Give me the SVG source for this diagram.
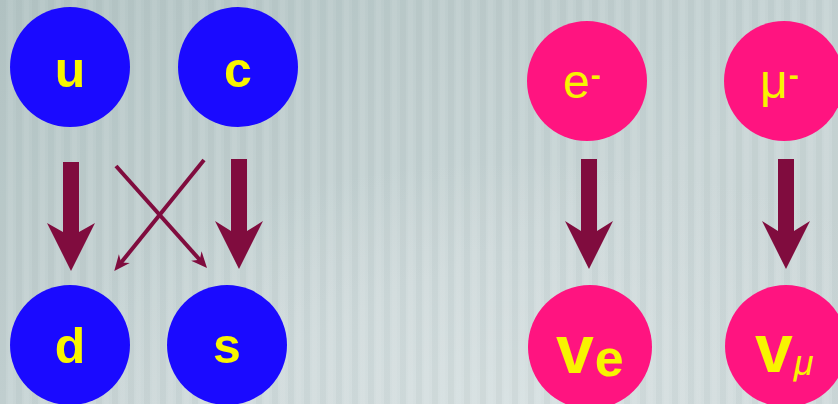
<svg xmlns="http://www.w3.org/2000/svg" width="838" height="404" viewBox="0 0 838 404">
  <defs>
    <linearGradient id="bg" x1="0" y1="0" x2="1" y2="1">
      <stop offset="0" stop-color="#B4C5C5"/>
      <stop offset="0.6" stop-color="#CAD6D7"/>
      <stop offset="1" stop-color="#CCD7D8"/>
    </linearGradient>
    <radialGradient id="glow" cx="0.62" cy="1" r="0.6">
      <stop offset="0" stop-color="#DAE3E4" stop-opacity="0.8"/>
      <stop offset="1" stop-color="#DAE3E4" stop-opacity="0"/>
    </radialGradient>
    <pattern id="stripes" x="0" y="0" width="16" height="404" patternUnits="userSpaceOnUse">
      <rect x="0" y="0" width="6" height="404" fill="#8FA6A8" opacity="0.11"/>
      <rect x="8" y="0" width="5" height="404" fill="#FFFFFF" opacity="0.06"/>
    </pattern>
    <marker id="head" viewBox="-10 -8 20 16" refX="0" refY="0" markerWidth="20" markerHeight="16" markerUnits="userSpaceOnUse" orient="auto" overflow="visible">
      <path d="M8,0 L-8,-7 L-3,0 L-8,7 Z" fill="#800C3E"/>
    </marker>
  </defs>
  <style>
    .quark { fill: #1A0AFF; }
    .lepton { fill: #FF1480; }
    .lbl { fill: #F8F400; font-family: "Liberation Sans", Arial, sans-serif; font-size: 50px; }
    .b { font-weight: bold; }
    .charged { font-size: 48px; }
    .nu { font-size: 68px; }
    .fat { fill: #800C3E; }
    .thin { stroke: #800C3E; stroke-width: 4; fill: none; marker-end: url(#head); }
  </style>

  <rect width="838" height="404" fill="url(#bg)"/>
  <rect width="838" height="404" fill="url(#glow)"/>
  <rect width="838" height="404" fill="url(#stripes)"/>

  <g id="connectors">
    <polygon class="fat" points="63,162 79,162 79,232 95,223 71,271 47,223 63,232"/>
    <polygon class="fat" points="231,159 247,159 247,231 263,221 239,269 215,221 231,231"/>
    <polygon class="fat" points="581,159 597,159 597,231 613,221 589,269 565,221 581,231"/>
    <polygon class="fat" points="778,159 794,159 794,231 810,221 786,269 762,221 778,231"/>
    <line class="thin" x1="116" y1="166" x2="201.7" y2="262"/>
    <line class="thin" x1="204" y1="160" x2="119.3" y2="264.8"/>
  </g>

  <g id="node-u">
    <circle class="quark" cx="70" cy="67" r="60"/>
    <text class="lbl b" x="70" y="87" text-anchor="middle">u</text>
  </g>
  <g id="node-c">
    <circle class="quark" cx="238" cy="67" r="60"/>
    <text class="lbl b" x="238" y="87" text-anchor="middle">c</text>
  </g>
  <g id="node-d">
    <circle class="quark" cx="70" cy="345" r="60"/>
    <text class="lbl b" x="70" y="363" text-anchor="middle">d</text>
  </g>
  <g id="node-s">
    <circle class="quark" cx="227" cy="345" r="60"/>
    <text class="lbl b" x="227" y="363" text-anchor="middle">s</text>
  </g>

  <g id="node-electron">
    <circle class="lepton" cx="587" cy="81" r="60"/>
    <text class="lbl charged" x="563" y="98">e<tspan style="font-size:30px;font-weight:bold" dx="1" dy="-13">-</tspan></text>
  </g>
  <g id="node-muon">
    <circle class="lepton" cx="784" cy="81" r="60"/>
    <text class="lbl charged" x="760" y="98">μ<tspan style="font-size:30px;font-weight:bold" dx="1" dy="-13">-</tspan></text>
  </g>
  <g id="node-nu-e">
    <circle class="lepton" cx="590" cy="347" r="62"/>
    <text class="lbl b nu" x="556" y="373">v<tspan style="font-size:52px" dx="1" dy="3">e</tspan></text>
  </g>
  <g id="node-nu-mu">
    <circle class="lepton" cx="786" cy="346" r="61"/>
    <text class="lbl b nu" x="755" y="372">v<tspan style="font-size:36px;font-weight:normal;font-style:italic" dx="1" dy="3">μ</tspan></text>
  </g>
</svg>
